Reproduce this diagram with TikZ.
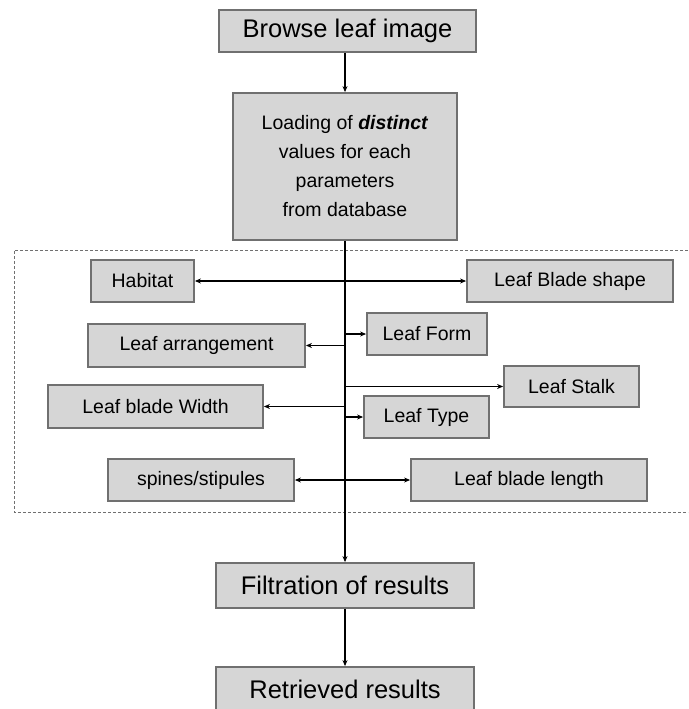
\documentclass[tikz,border=0pt]{standalone}
\usepackage{fontspec}
\setmainfont{Liberation Sans}
\usetikzlibrary{arrows.meta}
\definecolor{boxfill}{HTML}{D6D6D6}
\definecolor{boxline}{HTML}{707070}

\begin{document}
\begin{tikzpicture}[x=1pt,y=-1pt,
        box/.style={draw=boxline,fill=boxfill,line width=1.8pt,inner sep=0pt,align=center},
        bigbox/.style={box,font=\fontsize{25.5}{30}\selectfont},
        smallbox/.style={box,font=\fontsize{19.5}{23}\selectfont},
        arr/.style={line width=1.8pt,-{Stealth[length=6pt,width=5pt]}},
        twoarr/.style={line width=1.8pt,{Stealth[length=6pt,width=5pt]}-{Stealth[length=6pt,width=5pt]}}]
                \useasboundingbox (0,0) rectangle (688,709);

                \draw[boxline,line width=0.9pt,dash pattern=on 3pt off 2pt] (688,250) -- (14,250) -- (14,512) -- (688,512);

                \node[bigbox,minimum width=257,minimum height=42] (browse) at (347.5,31) {Browse leaf image};
                \node[smallbox,minimum width=224,minimum height=147,font=\fontsize{19.5}{29}\selectfont] (load) at (345,166.5)
                    {Loading of \textbf{\textit{distinct}}\\values for each\\parameters\\from database};

                \node[smallbox,minimum width=103,minimum height=42] (hab) at (142.5,281) {Habitat};
                \node[smallbox,minimum width=206,minimum height=42] (shape) at (570,281) {Leaf Blade shape};
                \node[smallbox,minimum width=217,minimum height=43] (arrange) at (196.5,345.5) {Leaf arrangement};
                \node[smallbox,minimum width=120,minimum height=42] (form) at (427,334) {Leaf Form};
                \node[smallbox,minimum width=135,minimum height=41] (stalk) at (571.5,386.5) {Leaf Stalk};
                \node[smallbox,minimum width=215,minimum height=43] (width) at (155.5,406.5) {Leaf blade Width};
                \node[smallbox,minimum width=125,minimum height=42] (type) at (426.5,417) {Leaf Type};
                \node[smallbox,minimum width=186,minimum height=42] (spines) at (201,480) {spines/stipules};
                \node[smallbox,minimum width=236,minimum height=42] (length) at (529,480) {Leaf blade length};

                \node[bigbox,minimum width=258,minimum height=45] (filt) at (345,585.5) {Filtration of results};
                \node[bigbox,minimum width=258,minimum height=45] (retr) at (345,689.5) {Retrieved results};

                \draw[arr] (browse.south -| load.south) -- (load.north);
                \draw[arr,line width=2.4pt] (load.south) -- (filt.north);
                \draw[arr] (filt.south) -- (retr.north);

                \draw[twoarr] (hab.east) -- (shape.west);
                \draw[twoarr] (spines.east) -- (length.west);
                \draw[arr] (load.south |- arrange.east) -- (arrange.east);
                \draw[arr] (load.south |- form.west) -- (form.west);
                \draw[arr] (load.south |- stalk.west) -- (stalk.west);
                \draw[arr] (load.south |- width.east) -- (width.east);
                \draw[arr] (load.south |- type.west) -- (type.west);
            \end{tikzpicture}
\end{document}
